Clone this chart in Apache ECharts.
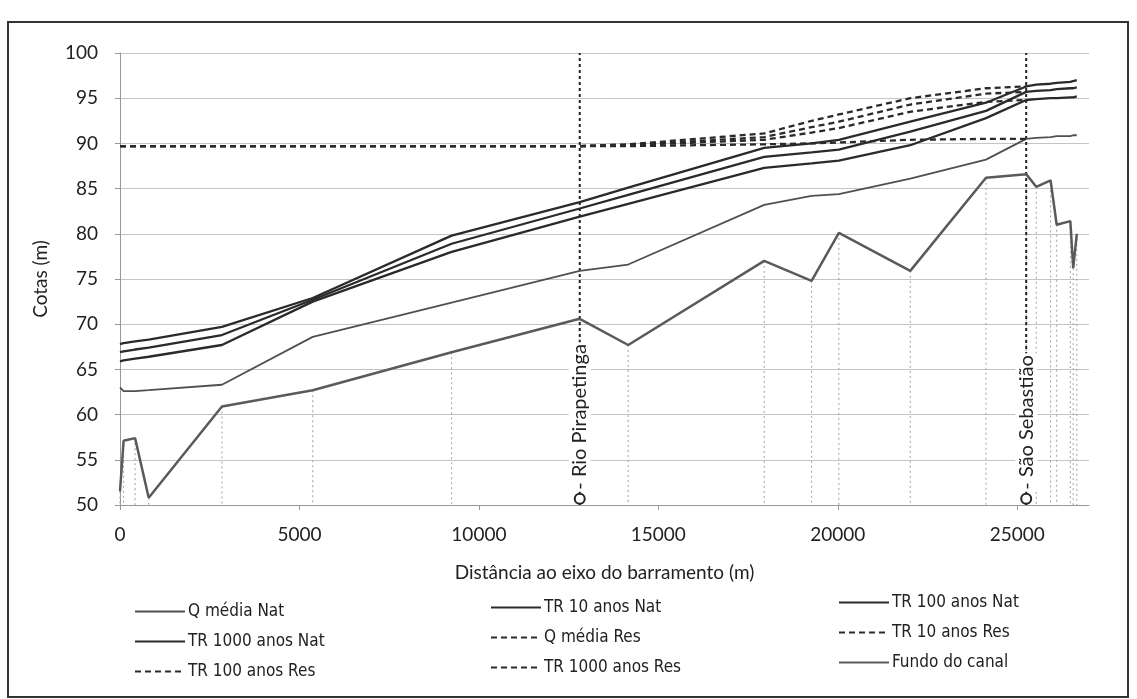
<!DOCTYPE html>
<html>
<head>
<meta charset="utf-8">
<script src="https://cdn.jsdelivr.net/npm/echarts@6/dist/echarts.min.js"></script>
<style>
    html, body { margin: 0; padding: 0; background: #fff; }
    #grafico { width: 1137px; height: 699px; }
</style>
</head>
<body>
<div id="grafico"></div>
<script>
    // estações (distância ao eixo do barramento, m)
    const distancias = [0, 100, 420, 800, 2840, 5370, 9240, 12810, 14160, 17950, 19270, 20030,
        22020, 24130, 25250, 25530, 25930, 26100, 26480, 26560, 26660];

    // cotas (m)
    const fundoCanal = [51.5, 57.1, 57.4, 50.8, 60.9, 62.7, 66.9, 70.6, 67.7, 77.0, 74.8, 80.1,
        75.9, 86.2, 86.6, 85.2, 85.9, 81.0, 81.4, 76.2, 80.0];
    const qMediaNat = [63.0, 62.6, 62.6, 62.7, 63.3, 68.6, 72.4, 75.9, 76.6, 83.2, 84.2, 84.4,
        86.1, 88.2, 90.5, 90.6, 90.7, 90.8, 90.8, 90.9, 90.9];
    const tr10Nat = [65.9, 66.0, 66.2, 66.4, 67.7, 72.5, 78.0, 81.9, 83.3, 87.3, 87.8, 88.1,
        89.8, 92.8, 94.8, 94.9, 95.0, 95.0, 95.1, 95.1, 95.2];
    const tr100Nat = [66.9, 67.0, 67.2, 67.4, 68.8, 72.7, 78.9, 82.8, 84.3, 88.5, 89.0, 89.3,
        91.3, 93.6, 95.7, 95.8, 95.9, 96.0, 96.1, 96.1, 96.2];
    const tr1000Nat = [67.8, 67.9, 68.1, 68.3, 69.7, 72.9, 79.8, 83.5, 85.1, 89.5, 90.0, 90.4,
        92.4, 94.5, 96.3, 96.5, 96.6, 96.7, 96.8, 96.9, 97.0];
    // reservatório: até São Sebastião
    const qMediaRes = [89.7, 89.7, 89.7, 89.7, 89.7, 89.7, 89.7, 89.7, 89.7, 89.9, 90.0, 90.1,
        90.4, 90.5, 90.5];
    const tr10Res = [89.7, 89.7, 89.7, 89.7, 89.7, 89.7, 89.7, 89.7, 89.8, 90.4, 91.2, 91.7,
        93.5, 94.6, 94.8];
    const tr100Res = [89.7, 89.7, 89.7, 89.7, 89.7, 89.7, 89.7, 89.7, 89.8, 90.7, 91.8, 92.4,
        94.3, 95.5, 95.7];
    const tr1000Res = [89.7, 89.7, 89.7, 89.7, 89.7, 89.7, 89.7, 89.7, 89.9, 91.1, 92.5, 93.2,
        95.0, 96.1, 96.3];

    // pontos de referência
    const referencias = ['Rio Pirapetinga', 'São Sebastião'];
    const refDistancias = [12810, 25250];

    const fonte = 'Lato, "Open Sans", sans-serif';
    const fonteLegenda = '"Liberation Sans Narrow", "DejaVu Sans Condensed", Lato, sans-serif';

    const pares = vals => vals.map((v, i) => [distancias[i], v]);

    const linha = (name, vals, color, width, tracejado) => ({
        name,
        type: 'line',
        data: pares(vals),
        symbol: 'none',
        silent: true,
        lineStyle: {color, width, type: tracejado ? [6, 4] : 'solid'},
        itemStyle: {color},
        z: tracejado ? 4 : 3
    });

    const legenda = (left, top, nomes) => ({
        left: left,
        top: top,
        data: nomes,
        orient: 'vertical',
        itemWidth: 50,
        itemHeight: 14,
        itemGap: 13,
        itemStyle: {opacity: 0},
        textStyle: {fontFamily: fonteLegenda, fontSize: 17, color: '#222', padding: [0, 0, 0, -2]}
    });

    const chart = echarts.init(document.getElementById('grafico'));

    const option = {
        backgroundColor: '#fff',
        animation: false,
        graphic: [{
            type: 'rect',
            shape: {x: 8, y: 22, width: 1120, height: 675},
            style: {fill: 'none', stroke: '#333', lineWidth: 2},
            silent: true
        }],
        grid: {left: 120, right: 48, top: 53, bottom: 194},
        legend: [
            legenda(129, 598, ['Q média Nat', 'TR 1000 anos Nat', 'TR 100 anos Res']),
            legenda(485, 594, ['TR 10 anos Nat', 'Q média Res', 'TR 1000 anos Res']),
            legenda(833, 589, ['TR 100 anos Nat', 'TR 10 anos Res', 'Fundo do canal'])
        ],
        xAxis: {
            type: 'value',
            min: 0,
            max: 27000,
            interval: 5000,
            name: 'Distância ao eixo do barramento (m)',
            nameLocation: 'middle',
            nameGap: 58,
            nameTextStyle: {fontFamily: fonte, fontSize: 19, color: '#222'},
            axisLine: {lineStyle: {color: '#999'}},
            axisTick: {show: true, length: 5, lineStyle: {color: '#999'}},
            axisLabel: {
                fontFamily: fonte, fontSize: 19, color: '#222', margin: 20,
                showMaxLabel: false,
                formatter: v => String(v)
            },
            splitLine: {show: false}
        },
        yAxis: {
            type: 'value',
            min: 50,
            max: 100,
            interval: 5,
            name: 'Cotas (m)',
            nameLocation: 'middle',
            nameGap: 70,
            nameRotate: 90,
            nameTextStyle: {fontFamily: fonte, fontSize: 19, color: '#222'},
            axisLine: {show: true, lineStyle: {color: '#999'}},
            axisTick: {show: true, length: 5, lineStyle: {color: '#999'}},
            axisLabel: {fontFamily: fonte, fontSize: 19, color: '#222', margin: 22},
            splitLine: {lineStyle: {color: '#c4c4c4', width: 1}}
        },
        series: [
            {
                // linhas de chamada do fundo
                name: 'linhas fundo',
                type: 'custom',
                silent: true,
                z: 1,
                data: pares(fundoCanal),
                encode: {x: 0, y: 1},
                renderItem(params, api) {
                    const topo = api.coord([api.value(0), api.value(1)]);
                    const base = api.coord([api.value(0), 50]);
                    return {
                        type: 'line',
                        shape: {x1: topo[0], y1: topo[1], x2: base[0], y2: base[1]},
                        style: {stroke: '#a0a0a0', lineWidth: 1, lineDash: [2, 3]}
                    };
                }
            },
            ...referencias.map((nome, i) => ({
                name: nome,
                type: 'line',
                data: [[refDistancias[i], 50], [refDistancias[i], 100]],
                symbol: 'none',
                silent: true,
                lineStyle: {color: '#222', width: 2, type: [3, 3]},
                z: 2
            })),
            linha('Fundo do canal', fundoCanal, '#5a5a5a', 2.5, false),
            linha('Q média Nat', qMediaNat, '#505050', 1.8, false),
            linha('TR 10 anos Nat', tr10Nat, '#2a2a2a', 2.3, false),
            linha('TR 100 anos Nat', tr100Nat, '#2a2a2a', 2.3, false),
            linha('TR 1000 anos Nat', tr1000Nat, '#2a2a2a', 2.3, false),
            linha('Q média Res', qMediaRes, '#2a2a2a', 2.3, true),
            linha('TR 10 anos Res', tr10Res, '#2a2a2a', 2.3, true),
            linha('TR 100 anos Res', tr100Res, '#2a2a2a', 2.3, true),
            linha('TR 1000 anos Res', tr1000Res, '#2a2a2a', 2.3, true),
            {
                name: 'marcadores',
                type: 'scatter',
                silent: true,
                z: 6,
                clip: false,
                data: referencias.map((nome, i) => [refDistancias[i], 50.7, nome]),
                symbol: 'circle',
                symbolSize: 10,
                itemStyle: {color: '#fff', borderColor: '#222', borderWidth: 2, opacity: 1},
                label: {
                    show: true,
                    position: 'top',
                    distance: 1,
                    rotate: 90,
                    align: 'left',
                    verticalAlign: 'middle',
                    formatter: p => '- ' + p.value[2],
                    fontFamily: fonte,
                    fontSize: 20,
                    color: '#222',
                    backgroundColor: '#fff',
                    padding: [1, 2]
                }
            }
        ]
    };

    chart.setOption(option);
</script>
</body>
</html>
